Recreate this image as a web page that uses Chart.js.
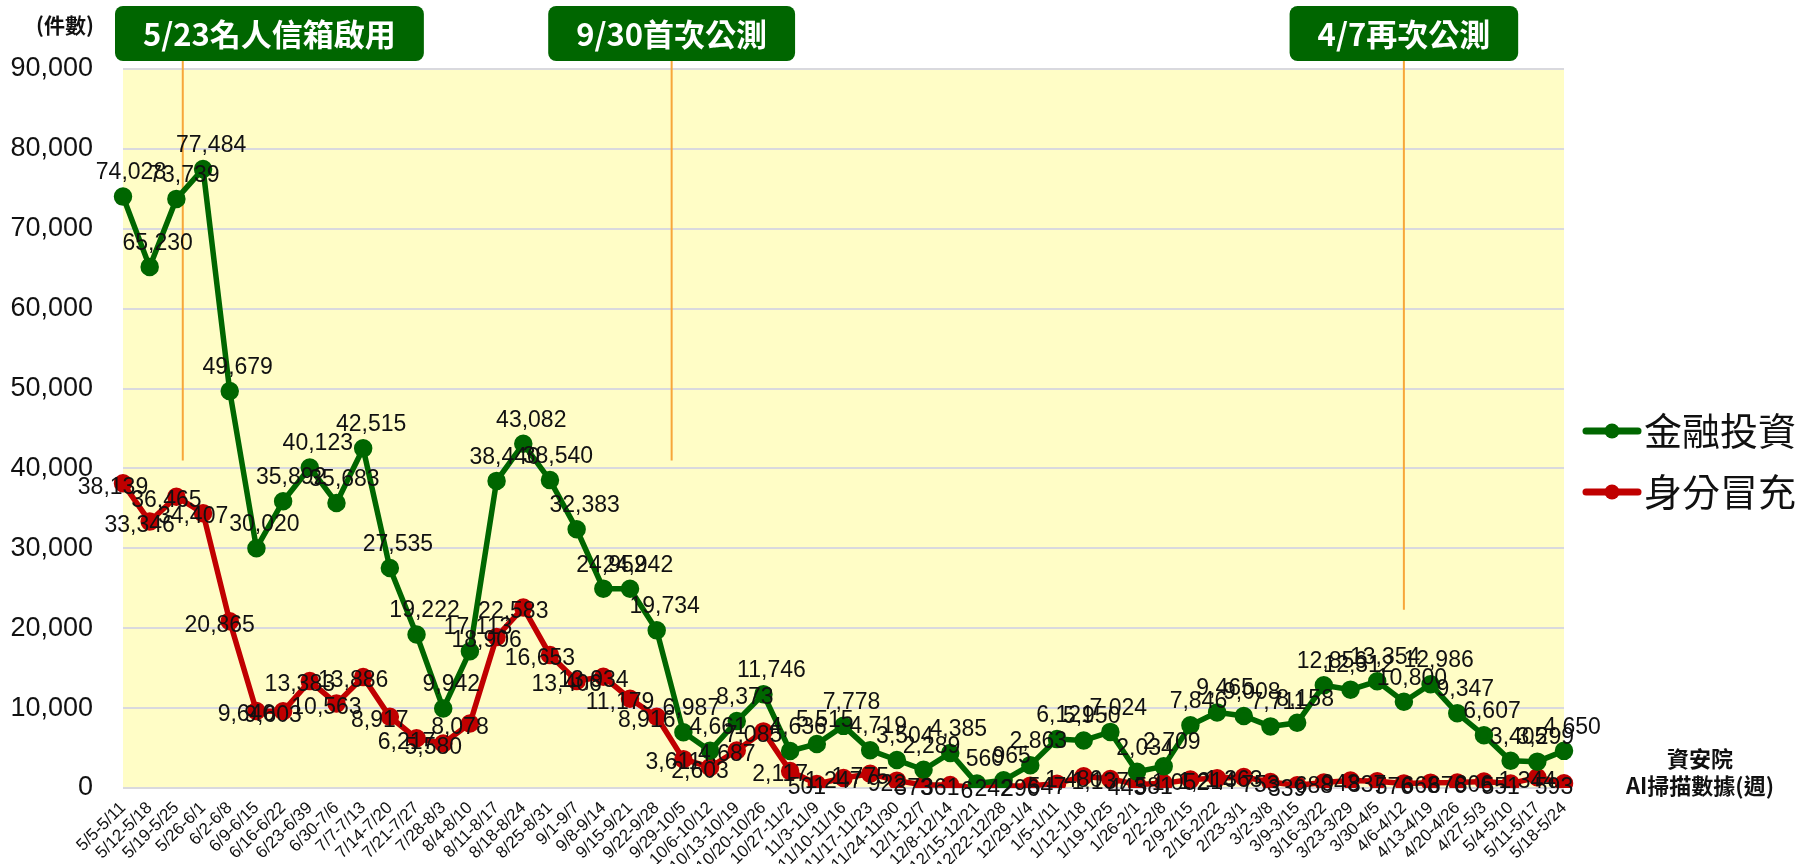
<!DOCTYPE html>
<html lang="zh-Hant">
<head>
<meta charset="utf-8">
<title>AI掃描數據(週)</title>
<script src="https://cdn.jsdelivr.net/npm/chart.js@4.4.1/dist/chart.umd.min.js"></script>
<style>
  html, body { margin: 0; padding: 0; background: #fff; }
</style>
</head>
<body>
<canvas id="chart" width="1803" height="864"></canvas>
<script>
// 週次
const weeks = [
    '5/5-5/11', '5/12-5/18', '5/19-5/25', '5/26-6/1', '6/2-6/8', '6/9-6/15', '6/16-6/22',
    '6/23-6/39', '6/30-7/6', '7/7-7/13', '7/14-7/20', '7/21-7/27', '7/28-8/3', '8/4-8/10',
    '8/11-8/17', '8/18-8/24', '8/25-8/31', '9/1-9/7', '9/8-9/14', '9/15-9/21', '9/22-9/28',
    '9/29-10/5', '10/6-10/12', '10/13-10/19', '10/20-10/26', '10/27-11/2', '11/3-11/9',
    '11/10-11/16', '11/17-11/23', '11/24-11/30', '12/1-12/7', '12/8-12/14', '12/15-12/21',
    '12/22-12/28', '12/29-1/4', '1/5-1/11', '1/12-1/18', '1/19-1/25', '1/26-2/1', '2/2-2/8',
    '2/9-2/15', '2/16-2/22', '2/23-3/1', '3/2-3/8', '3/9-3/15', '3/16-3/22', '3/23-3/29',
    '3/30-4/5', '4/6-4/12', '4/13-4/19', '4/20-4/26', '4/27-5/3', '5/4-5/10', '5/11-5/17',
    '5/18-5/24'
];

// 金融投資
const finance = [
    74028, 65230, 73739, 77484, 49679, 30020, 35892, 40123, 35683, 42515, 27535,
    19222, 9942, 17113, 38440, 43082, 38540, 32383, 24952, 24942, 19734, 6987,
    4661, 8373, 11746, 4636, 5515, 7778, 4719, 3504, 2289, 4385, 560,
    965, 2863, 6121, 5950, 7024, 2034, 2709, 7846, 9465, 9008, 7711,
    8158, 12856, 12312, 13354, 10800, 12986, 9347, 6607, 3405, 3299, 4650
];

// 身分冒充
const identity = [
    38139, 33346, 36465, 34407, 20865, 9640, 9603, 13383, 10563, 13886, 8917,
    6217, 5580, 8078, 18906, 22583, 16653, 13406, 13934, 11179, 8916, 3611,
    2603, 4687, 7085, 2117, 501, 1247, 1775, 922, 373, 361, 6,
    242, 296, 547, 1480, 1137, 443, 581, 1052, 1214, 1363, 753,
    339, 688, 943, 837, 576, 668, 676, 806, 551, 1344, 593
];

const seriesNames = ['金融投資', '身分冒充'];
const seriesColors = ['#006600', '#C00000'];

const yMax = 90000;
const yStep = 10000;

// 事件標註 (位置以週次索引表示)
const eventTexts = ['5/23名人信箱啟用', '9/30首次公測', '4/7再次公測'];
const eventIndex = [2.24, 20.56, 48.0];
const eventLineEnd = [41000, 41000, 22300];

const unitLabel = '(件數)';
const sourceLines = ['資安院', 'AI掃描數據(週)'];

const numFmt = v => v.toLocaleString('en-US');

// 背景、事件線、標籤
const decorPlugin = {
    id: 'decor',
    beforeDraw(chart) {
        const { ctx, chartArea: a } = chart;
        ctx.save();
        ctx.fillStyle = '#FFFDC6';
        ctx.fillRect(a.left, a.top, a.right - a.left, a.bottom - a.top);
        ctx.restore();
    },
    beforeDatasetsDraw(chart) {
        const { ctx, scales } = chart;
        ctx.save();
        ctx.strokeStyle = '#F7A63A';
        ctx.lineWidth = 2;
        eventIndex.forEach((idx, i) => {
            const x = scales.x.getPixelForValue(idx);
            ctx.beginPath();
            ctx.moveTo(x, 61);
            ctx.lineTo(x, scales.y.getPixelForValue(eventLineEnd[i]));
            ctx.stroke();
        });
        ctx.restore();
    },
    afterDatasetsDraw(chart) {
        const { ctx, chartArea: a, scales } = chart;
        ctx.save();

        // 數據標籤
        ctx.font = '23px "Liberation Sans", Arial, sans-serif';
        ctx.fillStyle = '#111';
        chart.data.datasets.forEach((ds, di) => {
            const meta = chart.getDatasetMeta(di);
            meta.data.forEach((pt, i) => {
                const txt = numFmt(ds.data[i]);
                ctx.textAlign = 'center';
                if (di === 0) {
                    ctx.textBaseline = 'bottom';
                    ctx.fillText(txt, pt.x + 8, pt.y - 12);
                } else {
                    ctx.textBaseline = 'middle';
                    ctx.fillText(txt, pt.x - 10, pt.y + 4);
                }
            });
        });

        // 事件方塊
        ctx.font = 'bold 31px "Noto Sans CJK TC", sans-serif';
        eventTexts.forEach((t, i) => {
            const x = scales.x.getPixelForValue(eventIndex[i]);
            const w = ctx.measureText(t).width + 56;
            const h = 55;
            const left = Math.max(x - w / 2, a.left - 8);
            ctx.fillStyle = '#006600';
            ctx.beginPath();
            ctx.roundRect(left, 6, w, h, 8);
            ctx.fill();
            ctx.fillStyle = '#fff';
            ctx.textAlign = 'center';
            ctx.textBaseline = 'middle';
            ctx.fillText(t, left + w / 2, 6 + h / 2 + 1);
        });

        // 單位
        ctx.fillStyle = '#111';
        ctx.font = 'bold 21px "Noto Sans CJK TC", sans-serif';
        ctx.textAlign = 'left';
        ctx.textBaseline = 'middle';
        ctx.fillText(unitLabel, 36, 25);

        // 來源
        ctx.font = 'bold 22px "Noto Sans CJK TC", sans-serif';
        ctx.textAlign = 'center';
        ctx.fillText(sourceLines[0], 1700, 759);
        ctx.fillText(sourceLines[1], 1700, 786);

        // 圖例
        seriesNames.forEach((name, i) => {
            const y = 431 + i * 61;
            ctx.strokeStyle = seriesColors[i];
            ctx.lineWidth = 7;
            ctx.lineCap = 'round';
            ctx.beginPath();
            ctx.moveTo(1586, y);
            ctx.lineTo(1638, y);
            ctx.stroke();
            ctx.fillStyle = seriesColors[i];
            ctx.beginPath();
            ctx.arc(1612, y, 7.5, 0, Math.PI * 2);
            ctx.fill();
            ctx.fillStyle = '#111';
            ctx.font = '38px "Noto Sans CJK TC", sans-serif';
            ctx.textAlign = 'left';
            ctx.textBaseline = 'middle';
            ctx.fillText(name, 1644, y);
        });

        ctx.restore();
    }
};

Chart.defaults.font.family = '"Liberation Sans", Arial, sans-serif';
Chart.defaults.color = '#111';

new Chart(document.getElementById('chart').getContext('2d'), {
    type: 'line',
    data: {
        labels: weeks,
        datasets: [finance, identity].map((vals, i) => ({
            label: seriesNames[i],
            data: vals,
            borderColor: seriesColors[i],
            backgroundColor: seriesColors[i],
            pointBackgroundColor: seriesColors[i],
            pointBorderColor: seriesColors[i],
            borderWidth: 5.5,
            pointRadius: 6.5,
            tension: 0
        }))
    },
    options: {
        responsive: false,
        animation: false,
        layout: {
            padding: { top: 69, right: 239, left: 0, bottom: 0 }
        },
        scales: {
            x: {
                offset: false,
                grid: { display: false },
                border: { display: false },
                ticks: {
                    autoSkip: false,
                    minRotation: 45,
                    maxRotation: 45,
                    padding: 2,
                    font: { size: 17 }
                },
                afterFit(scale) { scale.height = 76; }
            },
            y: {
                min: 0,
                max: yMax,
                border: { display: false },
                grid: { color: '#D9D9DE', lineWidth: 2, drawTicks: false },
                ticks: {
                    stepSize: yStep,
                    padding: 30,
                    font: { size: 27 },
                    callback: v => numFmt(v)
                },
                afterFit(scale) { scale.width = 123; }
            }
        },
        plugins: {
            legend: { display: false },
            tooltip: { enabled: false }
        }
    },
    plugins: [decorPlugin]
});
</script>
</body>
</html>
